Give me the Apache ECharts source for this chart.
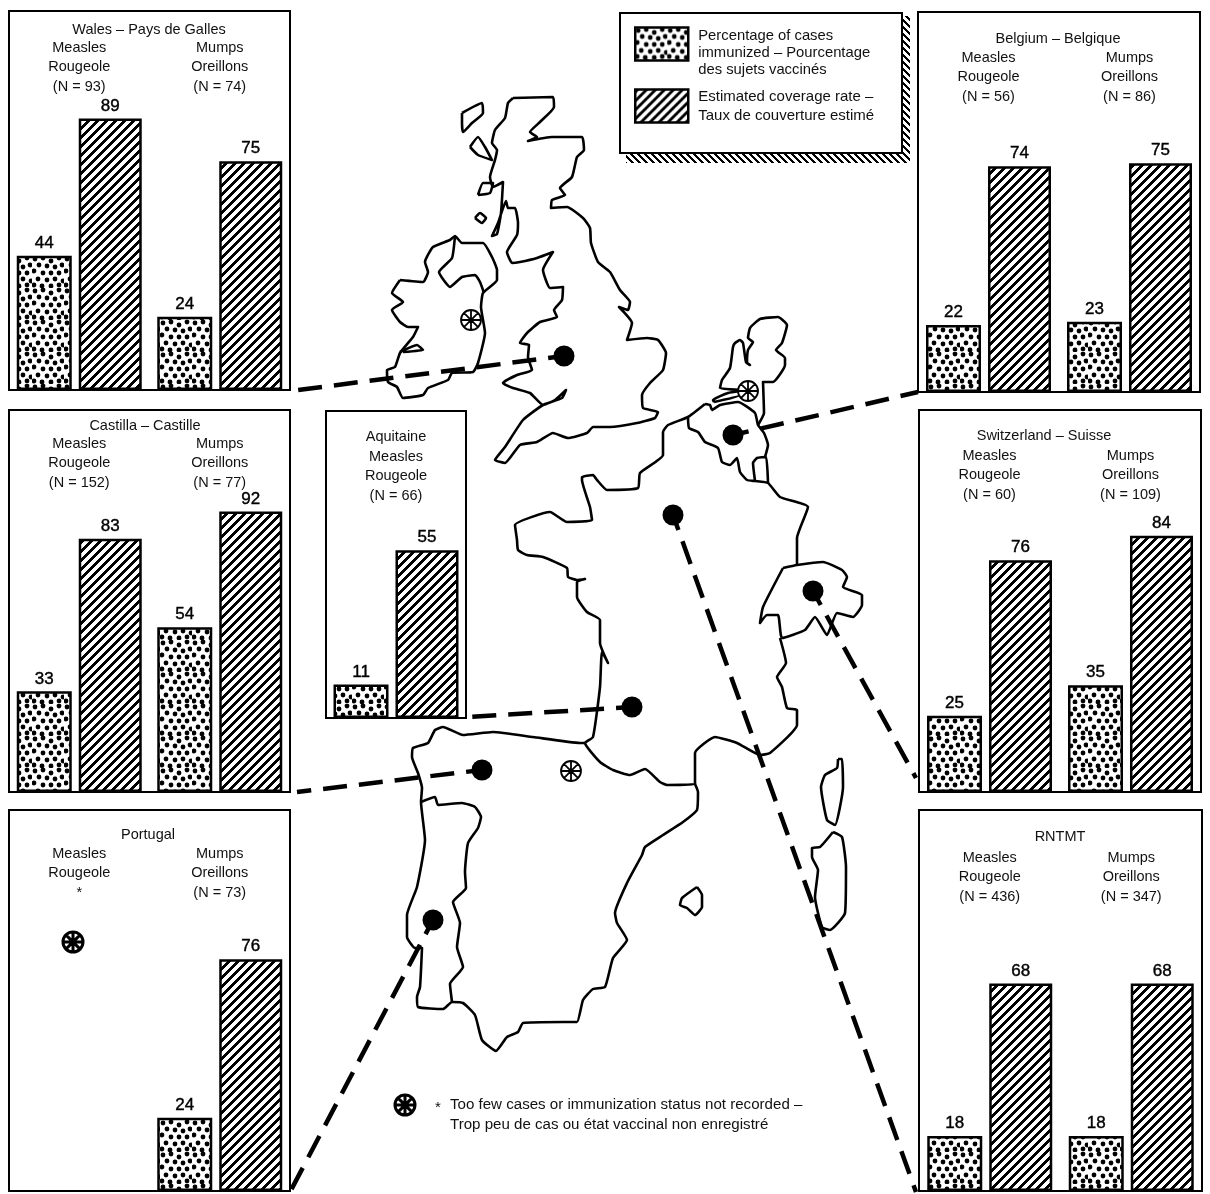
<!DOCTYPE html>
<html>
<head>
<meta charset="utf-8">
<style>html,body{margin:0;padding:0;background:#fff}#chart{width:1210px;height:1194px}</style>
<script src="https://cdn.jsdelivr.net/npm/echarts@6/dist/echarts.min.js"></script>
</head>
<body>
<div id="chart"></div>
<script>
// values: [measles, mumps]
const walesLabels = ['Measles\nRougeole\n(N = 93)', 'Mumps\nOreillons\n(N = 74)'];
const walesImmunized = [44, 24];
const walesCoverage = [89, 75];
const castillaLabels = ['Measles\nRougeole\n(N = 152)', 'Mumps\nOreillons\n(N = 77)'];
const castillaImmunized = [33, 54];
const castillaCoverage = [83, 92];
const aquitaineLabels = ['Measles\nRougeole\n(N = 66)'];
const aquitaineImmunized = [11];
const aquitaineCoverage = [55];
const portugalLabels = ['Measles\nRougeole\n*', 'Mumps\nOreillons\n(N = 73)'];
const portugalImmunized = [null, 24];
const portugalCoverage = [null, 76];
const belgiumLabels = ['Measles\nRougeole\n(N = 56)', 'Mumps\nOreillons\n(N = 86)'];
const belgiumImmunized = [22, 23];
const belgiumCoverage = [74, 75];
const swissLabels = ['Measles\nRougeole\n(N = 60)', 'Mumps\nOreillons\n(N = 109)'];
const swissImmunized = [25, 35];
const swissCoverage = [76, 84];
const rntmtLabels = ['Measles\nRougeole\n(N = 436)', 'Mumps\nOreillons\n(N = 347)'];
const rntmtImmunized = [18, 18];
const rntmtCoverage = [68, 68];

const immunizedText = '\nPercentage of cases\nimmunized – Pourcentage\ndes sujets vaccinés';
const coverageText = 'Estimated coverage rate –\nTaux de couverture estimé';
const footnoteText = 'Too few cases or immunization status not recorded –\nTrop peu de cas ou état vaccinal non enregistré';

// map outlines, in page pixels
const britain = [[513,98],[553,97],[554,107],[540,122],[530,132],[537,137],[528,141],[552,137],[582,137],[584,150],[577,157],[572,177],[560,188],[565,195],[552,200],[551,208],[567,207],[583,218],[590,228],[591,243],[598,262],[610,272],[620,290],[630,302],[628,310],[619,307],[632,323],[627,340],[647,338],[658,340],[666,353],[663,370],[650,383],[642,395],[643,408],[658,412],[655,418],[637,423],[610,427],[593,427],[587,433],[568,438],[553,433],[537,442],[520,445],[505,463],[495,460],[505,447],[523,420],[543,405],[562,398],[566,390],[555,400],[543,405],[530,393],[513,388],[503,383],[517,375],[532,370],[528,357],[529,345],[520,343],[527,333],[540,322],[557,317],[554,310],[562,300],[563,287],[550,288],[543,270],[553,252],[537,258],[520,262],[512,263],[507,252],[517,235],[518,223],[515,208],[508,208],[506,201],[498,223],[492,236],[497,234],[501,213],[503,182],[493,187],[490,177],[495,160],[497,150],[492,143],[495,130],[505,118],[508,103],[513,98]];
const hebrides = [[462,113],[482,103],[483,113],[472,123],[463,132],[462,123],[462,113]];
const skye = [[470,147],[478,137],[485,147],[492,160],[478,155],[470,147]];
const mull = [[478,195],[483,183],[493,183],[490,193],[478,195]];
const islay = [[475,218],[480,213],[486,218],[482,223],[475,218]];
const ireland = [[400,280],[423,282],[428,272],[425,262],[433,247],[450,240],[455,236],[462,243],[483,243],[492,257],[497,270],[497,280],[483,293],[481,307],[485,333],[478,363],[473,372],[452,373],[448,380],[428,388],[423,395],[403,398],[397,387],[388,382],[387,370],[395,367],[400,353],[413,337],[418,327],[408,327],[400,322],[392,310],[403,302],[392,293],[400,280]];
const ulsterBorder = [[455,236],[452,258],[439,272],[450,287],[462,277],[475,275],[480,282],[484,293]];
const shannon = [[400,352],[417,345],[423,350],[403,352]];
const franceCoast = [[705,404],[688,417],[668,425],[663,432],[663,455],[640,473],[638,488],[607,490],[597,480],[593,475],[582,477],[582,480],[590,507],[592,520],[567,522],[550,512],[515,525],[517,540],[518,550],[527,555],[543,557],[567,568],[568,577],[577,580],[585,579],[577,582],[577,597],[587,612],[600,620],[600,643],[608,663],[602,652],[600,687],[593,737],[585,743],[600,762],[613,770],[630,775],[645,769],[660,782],[667,785],[695,784],[695,753],[715,737],[737,743],[760,755],[770,753],[797,725],[797,710],[787,708],[782,687],[777,677],[786,663],[780,638]];
const franceEast = [[688,417],[689,428],[698,432],[705,442],[718,448],[722,462],[730,465],[737,458],[740,472],[747,480],[755,481],[768,483],[780,497],[808,507],[797,538],[797,565]];
const luxembourg = [[755,481],[753,463],[757,458],[766,457],[768,483]];
const belgiumNorth = [[705,404],[710,405],[712,410],[720,405],[738,402],[755,413],[758,425],[764,433],[768,445],[765,457]];
const netherlands = [[758,425],[764,413],[763,382],[773,382],[785,365],[785,358],[776,350],[782,343],[787,325],[778,317],[760,319],[750,328],[748,338],[753,342],[748,350],[747,363],[750,365],[746,362],[743,343],[740,340],[735,343],[733,347],[730,368],[722,380],[720,388],[740,390]];
const zeeland = [[714,402],[713,400],[728,393],[740,391],[740,395],[714,402]];
const switzerland = [[783,568],[797,565],[823,562],[842,570],[847,577],[843,587],[862,595],[862,605],[853,617],[837,613],[827,635],[815,617],[805,630],[782,638],[778,615],[767,615],[760,623],[763,607],[783,568]];
const iberia = [[585,743],[580,743],[533,737],[493,732],[463,735],[443,727],[435,730],[428,743],[413,748],[412,757],[418,773],[422,788],[421,802],[425,840],[417,887],[407,915],[407,937],[415,948],[422,948],[420,987],[417,997],[418,1007],[443,1009],[452,1002],[463,1003],[475,1015],[482,1040],[496,1051],[507,1037],[518,1032],[523,1023],[563,1022],[577,1022],[583,1000],[593,989],[605,987],[613,958],[627,940],[617,923],[615,913],[627,883],[642,855],[645,847],[663,835],[683,822],[697,810],[698,792],[695,784]];
const portugalBorder = [[421,802],[435,797],[438,805],[462,803],[475,807],[481,817],[478,828],[468,843],[465,872],[466,888],[453,902],[460,923],[457,947],[463,967],[450,984],[452,1002]];
const corsica = [[838,759],[842,759],[843,787],[835,825],[827,820],[821,787],[825,775],[837,768],[838,759]];
const sardinia = [[833,832],[842,837],[846,867],[845,913],[830,930],[822,927],[815,897],[818,870],[812,857],[812,848],[820,847],[833,832]];
const mallorca = [[697,887],[702,895],[702,907],[695,915],[687,908],[680,905],[682,898],[697,887]];
const mapOutlines = [britain, hebrides, skye, mull, islay, ireland, ulsterBorder, shannon, franceCoast, franceEast, luxembourg, belgiumNorth, netherlands, zeeland, switzerland, iberia, portugalBorder, corsica, sardinia, mallorca];

// sentinel sites and their leader lines to the panels
const sitePoints = [[564,356],[733,435],[482,770],[632,707],[433,920],[673,515],[813,591]];
const leaderLines = [
  [[564,356],[290,391]],
  [[733,435],[918,392]],
  [[482,770],[297,792]],
  [[632,707],[468,717]],
  [[433,920],[290,1192]],
  [[673,515],[916,1192]],
  [[813,591],[916,778]]
];
const wheelPoints = [[471,320],[748,391],[571,771]];
const darkWheelPoints = [[73,942],[405,1105]];

const pxPerUnit = 3.05;
const font = '"Liberation Sans", Arial, sans-serif';

function makeTile(size, draw) {
  const c = document.createElement('canvas');
  c.width = c.height = size;
  const ctx = c.getContext('2d');
  ctx.fillStyle = '#fff';
  ctx.fillRect(0, 0, size, size);
  ctx.fillStyle = '#000';
  draw(ctx, size);
  return { image: c, repeat: 'repeat' };
}
// diagonal stripes set pixel by pixel so the tile joins without seams
function stripes(size, black, back) {
  return makeTile(size, (ctx, s) => {
    for (let y = 0; y < s; y++) {
      for (let x = 0; x < s; x++) {
        const d = back ? (x - y + s) % s : (x + y) % s;
        if (d < black) ctx.fillRect(x, y, 1, 1);
      }
    }
  });
}
const hatchFill = stripes(9, 4, false);
const shadowFill = stripes(7, 3, true);
// hand placed blobs so the screen does not look like a regular grid
const dotSpots = [[3,3],[11,2],[19,5],[27,2],[7,9],[15,10],[23,11],[30,9],[2,15],[11,17],[19,17],[27,17],[6,23],[15,24],[23,23],[31,25],[2,29],[10,30],[19,30],[27,29]];
const dotFill = makeTile(32, ctx => {
  dotSpots.forEach(p => {
    ctx.beginPath();
    ctx.arc(p[0], p[1], 2.4, 0, Math.PI * 2);
    ctx.fill();
  });
});

const wheelPath = 'path://M12 0A12 12 0 1 1 12 24A12 12 0 1 1 12 0ZM12 0L12 24M0 12L24 12M3.5 3.5L20.5 20.5M20.5 3.5L3.5 20.5';

const panels = [
  { title: 'Wales – Pays de Galles', titleX: 149, titleY: 30, left: 9, top: 11, width: 281, height: 379, margin: 27, labels: walesLabels, immunized: walesImmunized, coverage: walesCoverage },
  { title: 'Castilla – Castille', titleX: 145, titleY: 426, left: 9, top: 410, width: 281, height: 382, margin: 24, labels: castillaLabels, immunized: castillaImmunized, coverage: castillaCoverage },
  { title: 'Aquitaine', titleX: 396, titleY: 437, left: 326, top: 411, width: 140, height: 307, margin: 36, labels: aquitaineLabels, immunized: aquitaineImmunized, coverage: aquitaineCoverage },
  { title: 'Portugal', titleX: 148, titleY: 835, left: 9, top: 810, width: 281, height: 381, margin: 34, labels: portugalLabels, immunized: portugalImmunized, coverage: portugalCoverage },
  { title: 'Belgium – Belgique', titleX: 1058, titleY: 39, left: 918, top: 12, width: 282, height: 380, margin: 36, labels: belgiumLabels, immunized: belgiumImmunized, coverage: belgiumCoverage },
  { title: 'Switzerland – Suisse', titleX: 1044, titleY: 436, left: 919, top: 410, width: 282, height: 382, margin: 36, labels: swissLabels, immunized: swissImmunized, coverage: swissCoverage },
  { title: 'RNTMT', titleX: 1060, titleY: 837, left: 919, top: 810, width: 283, height: 381, margin: 38, labels: rntmtLabels, immunized: rntmtImmunized, coverage: rntmtCoverage }
];

const grids = [{ left: 0, top: 0, width: 1210, height: 1194, show: false }];
const xAxes = [{ type: 'value', gridIndex: 0, min: 0, max: 1210, show: false }];
const yAxes = [{ type: 'value', gridIndex: 0, min: 0, max: 1194, inverse: true, show: false }];
const series = [];

mapOutlines.forEach(outline => series.push({
  type: 'line', xAxisIndex: 0, yAxisIndex: 0, data: outline, symbol: 'none', silent: true, z: 1, smooth: 0.15,
  lineStyle: { color: '#000', width: 2.6, join: 'round' }
}));
leaderLines.forEach(line => series.push({
  type: 'line', xAxisIndex: 0, yAxisIndex: 0, data: line, symbol: 'none', silent: true, z: 3,
  lineStyle: { color: '#000', width: 4.5, type: [24, 12], dashOffset: 8, cap: 'butt' }
}));
series.push({
  type: 'scatter', xAxisIndex: 0, yAxisIndex: 0, data: sitePoints, symbol: 'circle', symbolSize: 21, z: 4,
  itemStyle: { color: '#000', opacity: 1 }
});
series.push({
  type: 'scatter', xAxisIndex: 0, yAxisIndex: 0, data: wheelPoints, symbol: wheelPath, symbolSize: 20, z: 4,
  itemStyle: { color: '#fff', borderColor: '#000', borderWidth: 1.8, opacity: 1 }
});
series.push({
  type: 'scatter', xAxisIndex: 0, yAxisIndex: 0, data: darkWheelPoints, symbol: wheelPath, symbolSize: 20, z: 4,
  itemStyle: { color: '#fff', borderColor: '#000', borderWidth: 3, opacity: 1 }
});

const texts = [];
panels.forEach((p, i) => {
  const g = i + 1;
  grids.push({ left: p.left, top: p.top, width: p.width, height: p.height, show: true, backgroundColor: '#fff', borderColor: '#000', borderWidth: 2 });
  xAxes.push({
    type: 'category', gridIndex: g, position: 'top', data: p.labels,
    axisLine: { show: false }, axisTick: { show: false },
    axisLabel: { inside: true, interval: 0, margin: p.margin, fontFamily: font, fontSize: 14.5, lineHeight: 19.5, color: '#111', verticalAlign: 'top' }
  });
  yAxes.push({ type: 'value', gridIndex: g, min: 0, max: p.height / pxPerUnit, show: false });
  const label = { show: true, position: 'top', distance: 4, fontFamily: font, fontSize: 17, color: '#000', textBorderColor: '#000', textBorderWidth: 0.4 };
  series.push({
    name: 'immunized', type: 'bar', xAxisIndex: g, yAxisIndex: g, data: p.immunized, barWidth: 55, barGap: '12.7%', z: 2, label,
    itemStyle: { color: dotFill, borderColor: '#000', borderWidth: 2.5 }
  });
  series.push({
    name: 'coverage', type: 'bar', xAxisIndex: g, yAxisIndex: g, data: p.coverage, barWidth: 63, z: 2, label,
    itemStyle: { color: hatchFill, borderColor: '#000', borderWidth: 2.5 }
  });
  texts.push({
    type: 'text', x: p.titleX, y: p.titleY, z: 10,
    style: { text: p.title, font: '14.5px ' + font, fill: '#111', align: 'center', verticalAlign: 'middle' }
  });
});

const legendBase = {
  orient: 'vertical', left: 634, padding: 0, itemWidth: 53, itemHeight: 33, itemGap: 0, selectedMode: false, icon: 'rect',
  itemStyle: { borderColor: '#000', borderWidth: 2.5 }, z: 10
};

const option = {
  animation: false,
  backgroundColor: '#fff',
  grid: grids,
  xAxis: xAxes,
  yAxis: yAxes,
  legend: [
    Object.assign({}, legendBase, {
      top: 5, data: ['immunized'], formatter: () => immunizedText,
      textStyle: { fontFamily: font, fontSize: 14.8, lineHeight: 17, color: '#111', padding: [0, 0, 10, 5] }
    }),
    Object.assign({}, legendBase, {
      top: 87, data: ['coverage'], formatter: () => coverageText,
      textStyle: { fontFamily: font, fontSize: 15, lineHeight: 19, color: '#111', padding: [0, 0, 0, 5] }
    })
  ],
  series,
  graphic: {
    elements: [
      { type: 'rect', z: 1, shape: { x: 626, y: 16, width: 284, height: 147 }, style: { fill: shadowFill } },
      { type: 'rect', z: 2, shape: { x: 620, y: 13, width: 282, height: 140 }, style: { fill: '#fff', stroke: '#000', lineWidth: 2 } },
      { type: 'text', x: 435, y: 1100, z: 10, style: { text: '*', font: '15px ' + font, fill: '#111' } },
      { type: 'text', x: 450, y: 1095, z: 10, style: { text: footnoteText, font: '15.1px ' + font, fill: '#111', lineHeight: 20 } }
    ].concat(texts)
  }
};

echarts.init(document.getElementById('chart')).setOption(option);
</script>
</body>
</html>
